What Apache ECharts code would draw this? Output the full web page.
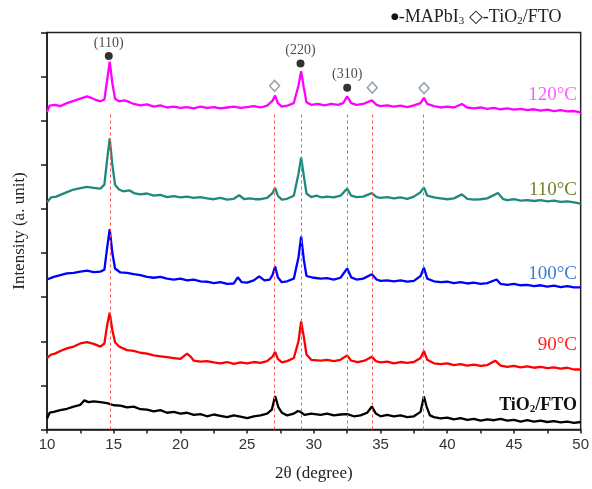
<!DOCTYPE html>
<html>
<head>
<meta charset="utf-8">
<script src="https://cdn.jsdelivr.net/npm/echarts@6/dist/echarts.min.js"></script>
<style>html,body{margin:0;padding:0;background:#fff}#c{width:592px;height:489px}</style>
</head>
<body>
<div id="c"></div>
<script>
// 2θ (degree), intensity (a. u., stacked offsets as drawn)
const tio2 = [[10.0,0.25],[10.2,0.38],[10.5,0.40],[11.0,0.44],[11.5,0.47],[12.0,0.52],[12.5,0.56],[12.8,0.66],[13.1,0.62],[13.5,0.64],[14.0,0.62],[14.5,0.60],[15.0,0.55],[15.5,0.54],[16.0,0.50],[16.5,0.52],[17.0,0.46],[17.5,0.45],[18.0,0.41],[18.5,0.44],[19.0,0.38],[19.5,0.40],[20.0,0.36],[20.5,0.38],[21.0,0.33],[21.5,0.35],[22.0,0.30],[22.5,0.34],[23.0,0.31],[23.5,0.28],[24.0,0.32],[24.5,0.29],[25.0,0.26],[25.5,0.30],[26.0,0.32],[26.5,0.36],[26.85,0.45],[27.1,0.76],[27.35,0.50],[27.6,0.38],[28.0,0.32],[28.5,0.36],[28.8,0.42],[29.0,0.40],[29.3,0.33],[29.8,0.36],[30.5,0.33],[31.0,0.36],[31.5,0.32],[32.0,0.34],[32.5,0.35],[33.0,0.30],[33.5,0.32],[34.0,0.38],[34.35,0.52],[34.65,0.36],[35.0,0.30],[35.5,0.33],[36.0,0.30],[36.5,0.32],[37.0,0.28],[37.5,0.30],[38.0,0.40],[38.25,0.75],[38.45,0.52],[38.7,0.32],[39.0,0.28],[39.5,0.25],[40.0,0.27],[40.5,0.23],[41.0,0.26],[41.5,0.22],[42.0,0.24],[42.5,0.20],[43.0,0.23],[43.5,0.21],[44.0,0.24],[44.5,0.20],[45.0,0.22],[45.5,0.18],[46.0,0.21],[46.5,0.18],[47.0,0.20],[47.5,0.17],[48.0,0.19],[48.5,0.16],[49.0,0.18],[49.5,0.15],[50.0,0.17]];
const t90 = [[10.0,1.62],[10.3,1.70],[10.6,1.72],[11.0,1.78],[11.5,1.84],[12.0,1.88],[12.5,1.95],[13.0,1.98],[13.5,1.94],[14.0,1.88],[14.3,1.95],[14.5,2.35],[14.7,2.65],[14.9,2.25],[15.1,1.98],[15.4,1.88],[15.7,1.84],[16.0,1.80],[16.5,1.78],[17.0,1.74],[17.5,1.72],[18.0,1.68],[18.5,1.66],[19.0,1.64],[19.5,1.62],[20.0,1.60],[20.5,1.72],[20.8,1.64],[21.0,1.56],[21.5,1.54],[22.0,1.55],[22.5,1.52],[23.0,1.50],[23.5,1.53],[24.0,1.49],[24.5,1.52],[25.0,1.50],[25.5,1.53],[26.0,1.51],[26.5,1.55],[26.9,1.65],[27.1,1.76],[27.3,1.60],[27.6,1.52],[28.0,1.55],[28.5,1.62],[28.85,2.00],[29.05,2.45],[29.25,2.10],[29.45,1.70],[29.8,1.58],[30.5,1.56],[31.0,1.58],[31.5,1.55],[32.0,1.58],[32.5,1.68],[32.8,1.56],[33.3,1.53],[33.8,1.56],[34.35,1.65],[34.65,1.55],[35.0,1.52],[35.5,1.54],[36.0,1.50],[36.5,1.53],[37.0,1.51],[37.5,1.53],[38.0,1.62],[38.25,1.78],[38.5,1.58],[39.0,1.50],[39.5,1.48],[40.0,1.50],[40.5,1.46],[41.0,1.48],[41.5,1.45],[42.0,1.47],[42.5,1.44],[43.0,1.46],[43.6,1.56],[44.0,1.45],[44.5,1.42],[45.0,1.44],[45.5,1.41],[46.0,1.43],[46.5,1.40],[47.0,1.42],[47.5,1.39],[48.0,1.41],[48.5,1.38],[49.0,1.40],[49.5,1.36],[50.0,1.36]];
const t100 = [[10.0,3.40],[10.5,3.46],[11.0,3.50],[11.5,3.54],[12.0,3.55],[12.5,3.58],[13.0,3.60],[13.5,3.57],[14.0,3.58],[14.3,3.62],[14.5,4.10],[14.7,4.54],[14.9,4.00],[15.1,3.65],[15.5,3.56],[16.0,3.55],[16.5,3.52],[17.0,3.50],[17.5,3.46],[18.0,3.44],[18.5,3.46],[19.0,3.42],[19.5,3.40],[20.0,3.42],[20.5,3.38],[21.0,3.40],[21.5,3.36],[22.0,3.35],[22.5,3.32],[23.0,3.34],[23.5,3.30],[24.0,3.31],[24.3,3.45],[24.6,3.34],[25.0,3.33],[25.5,3.38],[25.9,3.47],[26.3,3.38],[26.7,3.40],[26.9,3.50],[27.1,3.70],[27.3,3.45],[27.6,3.34],[28.0,3.36],[28.5,3.42],[28.85,3.90],[29.05,4.38],[29.25,3.85],[29.45,3.48],[30.0,3.44],[30.5,3.42],[31.0,3.43],[31.5,3.40],[32.0,3.44],[32.5,3.65],[32.8,3.45],[33.2,3.40],[33.7,3.42],[34.35,3.52],[34.7,3.40],[35.0,3.37],[35.5,3.38],[36.0,3.36],[36.5,3.38],[37.0,3.35],[37.5,3.37],[38.0,3.48],[38.25,3.67],[38.5,3.42],[39.0,3.36],[39.5,3.34],[40.0,3.35],[40.5,3.32],[41.0,3.34],[41.5,3.31],[42.0,3.33],[42.5,3.30],[43.0,3.32],[43.7,3.40],[44.0,3.30],[44.5,3.28],[45.0,3.30],[45.5,3.27],[46.0,3.28],[46.5,3.25],[47.0,3.27],[47.5,3.24],[48.0,3.26],[48.5,3.23],[49.0,3.25],[49.5,3.22],[50.0,3.22]];
const t110 = [[10.0,5.15],[10.3,5.26],[10.7,5.28],[11.0,5.32],[11.5,5.38],[12.0,5.44],[12.5,5.47],[13.0,5.50],[13.5,5.48],[14.0,5.46],[14.3,5.55],[14.5,6.10],[14.7,6.60],[14.9,6.00],[15.1,5.55],[15.4,5.44],[15.7,5.40],[16.2,5.42],[16.5,5.36],[17.0,5.33],[17.5,5.35],[18.0,5.30],[18.5,5.32],[19.0,5.27],[19.5,5.29],[20.0,5.26],[20.5,5.28],[21.0,5.25],[21.5,5.27],[22.0,5.24],[22.5,5.22],[23.0,5.25],[23.5,5.21],[24.0,5.23],[24.4,5.31],[24.8,5.22],[25.2,5.24],[25.6,5.22],[26.0,5.22],[26.5,5.25],[26.9,5.36],[27.1,5.48],[27.3,5.30],[27.6,5.21],[28.0,5.23],[28.5,5.30],[28.85,5.80],[29.05,6.17],[29.25,5.75],[29.45,5.35],[29.8,5.27],[30.2,5.30],[30.6,5.26],[31.0,5.28],[31.5,5.26],[32.0,5.30],[32.5,5.46],[32.8,5.30],[33.2,5.27],[33.7,5.28],[34.35,5.36],[34.7,5.27],[35.0,5.25],[35.5,5.27],[36.0,5.24],[36.5,5.26],[37.0,5.23],[37.5,5.28],[38.0,5.38],[38.25,5.49],[38.5,5.30],[39.0,5.26],[39.5,5.24],[40.0,5.22],[40.5,5.24],[41.1,5.33],[41.5,5.23],[42.0,5.21],[42.5,5.22],[43.0,5.24],[43.8,5.36],[44.2,5.22],[44.5,5.20],[45.0,5.22],[45.5,5.19],[46.0,5.20],[46.5,5.18],[47.0,5.20],[47.5,5.17],[48.0,5.19],[48.5,5.16],[49.0,5.17],[49.5,5.15],[50.0,5.12]];
const t120 = [[10.0,7.20],[10.2,7.34],[10.6,7.36],[11.0,7.33],[11.5,7.40],[12.0,7.45],[12.5,7.50],[13.0,7.55],[13.3,7.52],[13.6,7.48],[14.0,7.44],[14.3,7.48],[14.5,7.90],[14.7,8.34],[14.9,7.85],[15.1,7.50],[15.4,7.44],[15.8,7.46],[16.2,7.42],[16.5,7.38],[17.0,7.35],[17.5,7.37],[18.0,7.32],[18.5,7.35],[19.0,7.30],[19.5,7.32],[20.0,7.29],[20.5,7.31],[21.0,7.28],[21.5,7.32],[22.0,7.29],[22.5,7.31],[23.0,7.28],[23.5,7.30],[24.0,7.32],[24.5,7.29],[25.0,7.31],[25.5,7.33],[26.0,7.30],[26.5,7.34],[26.9,7.45],[27.1,7.57],[27.3,7.40],[27.6,7.32],[28.0,7.34],[28.5,7.40],[28.85,7.80],[29.05,8.12],[29.25,7.75],[29.45,7.42],[29.8,7.36],[30.3,7.38],[30.8,7.35],[31.3,7.38],[31.8,7.36],[32.2,7.40],[32.5,7.55],[32.8,7.40],[33.2,7.36],[33.7,7.38],[34.35,7.46],[34.7,7.36],[35.0,7.33],[35.5,7.35],[36.0,7.32],[36.5,7.34],[37.0,7.31],[37.5,7.35],[38.0,7.40],[38.25,7.52],[38.5,7.38],[39.0,7.33],[39.5,7.30],[40.0,7.32],[40.5,7.30],[41.1,7.38],[41.5,7.30],[42.0,7.28],[42.5,7.30],[43.0,7.27],[43.5,7.29],[44.0,7.26],[44.5,7.28],[45.0,7.25],[45.5,7.27],[46.0,7.24],[46.5,7.26],[47.0,7.23],[47.5,7.25],[48.0,7.22],[48.5,7.24],[49.0,7.21],[49.5,7.22],[50.0,7.19]];

const peakNames = ['(110)', '(220)', '(310)'];
const peakPos = [[14.63, 8.47], [29.0, 8.30], [32.5, 7.75]];
const tioPos = [[27.06, 7.79], [34.38, 7.75], [38.26, 7.74]];
const refLines = [14.72, 27.07, 29.05, 32.5, 34.36, 38.2];
const refTop = 7.2;

const serif = 'Liberation Serif';
const chart = echarts.init(document.getElementById('c'), null, {renderer: 'canvas'});
const axisCol = '#1a1a1a';
const lineSeries = (data, color) => ({
  type: 'line', data: data, symbol: 'none', showSymbol: false, z: 3,
  lineStyle: {color: color, width: 2.3}, silent: true
});

chart.setOption({
  animation: false,
  grid: {left: 47, right: 9, top: 32.5, bottom: 59.5, show: true, borderColor: '#222', borderWidth: 1.5},
  xAxis: {
    type: 'value', min: 10, max: 50, interval: 5,
    name: '2θ (degree)', nameLocation: 'middle', nameGap: 36,
    nameTextStyle: {fontFamily: serif, fontSize: 17, color: '#222'},
    axisLine: {onZero: false, lineStyle: {color: axisCol, width: 1.5}},
    axisTick: {length: 4, lineStyle: {color: axisCol, width: 1.5}},
    minorTick: {show: true, splitNumber: 2, length: 4, lineStyle: {color: axisCol, width: 1.5}},
    splitLine: {show: false},
    axisLabel: {fontFamily: 'Liberation Sans', fontSize: 15, color: '#333', margin: 8}
  },
  yAxis: {
    type: 'value', min: 0, max: 9, interval: 1,
    name: 'Intensity (a. unit)', nameLocation: 'middle', nameGap: 19,
    nameTextStyle: {fontFamily: serif, fontSize: 17, color: '#222'},
    axisLine: {show: true, onZero: false, lineStyle: {color: axisCol, width: 1.5}},
    axisTick: {show: true, length: 6, lineStyle: {color: axisCol, width: 1.5}},
    axisLabel: {show: false},
    splitLine: {show: false}
  },
  series: [
    {
      type: 'line', data: [], z: 1, silent: true,
      markLine: {
        silent: true, symbol: ['none', 'none'], label: {show: false},
        lineStyle: {color: '#ff5555', type: [3, 3], width: 1},
        data: refLines.map(x => [{coord: [x, 0]}, {coord: [x, refTop]}])
      }
    },
    lineSeries(tio2, '#000000'),
    lineSeries(t90, '#ff0000'),
    lineSeries(t100, '#0000ff'),
    lineSeries(t110, '#1f8a7c'),
    lineSeries(t120, '#ff00ff'),
    {
      type: 'scatter', data: peakPos, symbol: 'circle', symbolSize: 8, z: 5,
      itemStyle: {color: '#000'},
      label: {show: true, position: 'top', distance: 2, fontFamily: serif, fontSize: 14, color: '#222',
        formatter: p => peakNames[p.dataIndex]}
    },
    {
      type: 'scatter', data: tioPos, symbol: 'diamond', symbolSize: [10, 11], z: 5,
      itemStyle: {color: '#fff', borderColor: '#7d8a96', borderWidth: 1.5}
    }
  ],
  graphic: [
    {type: 'text', style: {x: 391, y: 17, textVerticalAlign: 'middle',
      text: '{d|●}{a|-MAPbI}{s|3}{a| ◇-TiO}{s|2}{a|/FTO}',
      rich: {a: {fontFamily: serif, fontSize: 18, lineHeight: 20, fill: '#222', color: '#222'},
             d: {fontFamily: 'DejaVu Sans', fontSize: 9, lineHeight: 20, fill: '#111', color: '#111'},
             s: {fontFamily: serif, fontSize: 11, lineHeight: 12, verticalAlign: 'bottom', fill: '#222', color: '#222'}}}},
    {type: 'text', style: {x: 577, y: 95, textAlign: 'right', textVerticalAlign: 'middle', text: '120°C', fontFamily: serif, fontSize: 19, fill: '#ff5cff'}},
    {type: 'text', style: {x: 577, y: 190, textAlign: 'right', textVerticalAlign: 'middle', text: '110°C', fontFamily: serif, fontSize: 19, fill: '#6e7f2c'}},
    {type: 'text', style: {x: 577, y: 274, textAlign: 'right', textVerticalAlign: 'middle', text: '100°C', fontFamily: serif, fontSize: 19, fill: '#3b7bd6'}},
    {type: 'text', style: {x: 577, y: 345, textAlign: 'right', textVerticalAlign: 'middle', text: '90°C', fontFamily: serif, fontSize: 19, fill: '#ff2222'}},
    {type: 'text', style: {x: 577, y: 405, textAlign: 'right', textVerticalAlign: 'middle',
      text: '{b|TiO}{s|2}{b|/FTO}',
      rich: {b: {fontFamily: serif, fontSize: 18, fontWeight: 'bold', lineHeight: 20, fill: '#111', color: '#111'},
             s: {fontFamily: serif, fontSize: 11, fontWeight: 'bold', lineHeight: 12, verticalAlign: 'bottom', fill: '#111', color: '#111'}}}}
  ]
});
</script>
</body>
</html>
